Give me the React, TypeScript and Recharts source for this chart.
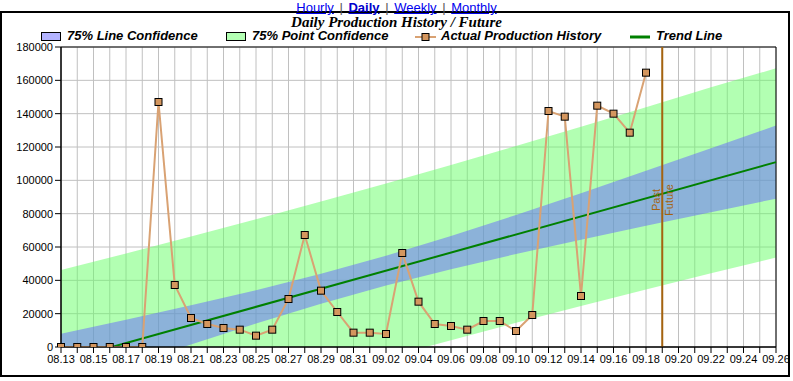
import { Area, CartesianGrid, ComposedChart, Line, ReferenceArea, ReferenceLine, XAxis, YAxis } from 'recharts';

const days = [
  '08.13', '08.14', '08.15', '08.16', '08.17', '08.18', '08.19', '08.20', '08.21', '08.22',
  '08.23', '08.24', '08.25', '08.26', '08.27', '08.28', '08.29', '08.30', '08.31', '09.01',
  '09.02', '09.03', '09.04', '09.05', '09.06', '09.07', '09.08', '09.09', '09.10', '09.11',
  '09.12', '09.13', '09.14', '09.15', '09.16', '09.17', '09.18', '09.19', '09.20', '09.21',
  '09.22', '09.23', '09.24', '09.25', '09.26',
];

// actual production, 08.13 .. 09.18
const actual = [
  0, 0, 0, 0, 0, 0, 147000, 37200, 17400, 13800,
  11400, 10400, 6800, 10400, 28800, 67200, 33800, 21000, 8600, 8600,
  7800, 56400, 27200, 13800, 12600, 10400, 15600, 15600, 9600, 19200,
  141600, 138200, 30600, 144800, 140000, 128600, 164600,
];

// confidence bands, read every 4 days
const bandDays = [0, 4, 8, 12, 16, 20, 24, 28, 32, 36, 40, 44];
const lineLow = [-25000, -11600, 1500, 14100, 26000, 36900, 46700, 55800, 64400, 72700, 80900, 89000];
const lineHigh = [8000, 16300, 25000, 34000, 43900, 54700, 66600, 79200, 92300, 105700, 119300, 132900];
const pointLow = [-63200, -51400, -39800, -28500, -17400, -6500, 4100, 14500, 24600, 34500, 44200, 53700];
const pointHigh = [46200, 56100, 66300, 76700, 87300, 98100, 109200, 120600, 132100, 143900, 155900, 167200];

const trendDays = [0, 44];
const trendValues = [-8480, 110940];

const futureStart = 37;
const yTicks = [0, 20000, 40000, 60000, 80000, 100000, 120000, 140000, 160000, 180000];

const rows = actual.map((v, i) => ({ day: i, actual: v }));
const bands = bandDays.map((d, i) => ({
  day: d,
  line: [lineLow[i], lineHigh[i]],
  point: [pointLow[i], pointHigh[i]],
}));
const trend = trendDays.map((d, i) => ({ day: d, trend: trendValues[i] }));

const font = '"Liberation Sans", Arial, sans-serif';
const brown = '#a5630f';

const SquareDot = (props: any) => {
  const { cx, cy } = props;
  if (cx == null || cy == null) return null;
  return <rect x={cx - 3.5} y={cy - 3.5} width={7} height={7} fill="#d4965e" stroke="#000" strokeWidth={1} />;
};

const PastFuture = (props: any) => {
  const vb = props.viewBox || {};
  const x = vb.x;
  const cy = vb.y + vb.height * 0.51;
  return (
    <g fontFamily={font} fontSize={11} fill={brown}>
      <text x={x - 2} y={cy} textAnchor="middle" transform={`rotate(-90 ${x - 2} ${cy})`}>Past</text>
      <text x={x + 11} y={cy} textAnchor="middle" transform={`rotate(-90 ${x + 11} ${cy})`}>Future</text>
    </g>
  );
};

const legendText = { position: 'absolute' as const, top: 29, fontSize: 13, fontWeight: 'bold', fontStyle: 'italic', lineHeight: '14px' };

function LegendBox({ left, color, label }: { left: number; color: string; label: string }) {
  return (
    <>
      <div style={{ position: 'absolute', left, top: 32, width: 18, height: 7, background: color, border: '1px solid #000' }} />
      <div style={{ ...legendText, left: left + 26 }}>{label}</div>
    </>
  );
}

export default function App() {
  return (
    <div style={{ position: 'absolute', left: 0, top: 0, width: 793, height: 381, background: '#fff', fontFamily: font, overflow: 'hidden' }}>
      <div style={{ position: 'absolute', left: 0, top: 11, width: 790, height: 366, border: '2px solid #000', boxSizing: 'border-box' }} />
      <div style={{ position: 'absolute', left: 0, top: 0, width: 793, textAlign: 'center', fontSize: 13, lineHeight: '15px', color: '#555', wordSpacing: 2 }}>
        <span style={{ color: '#0000ee', textDecoration: 'underline' }}>Hourly</span> |{' '}
        <span style={{ color: '#0000cc', textDecoration: 'underline', fontWeight: 'bold' }}>Daily</span> |{' '}
        <span style={{ color: '#0000ee', textDecoration: 'underline' }}>Weekly</span> |{' '}
        <span style={{ color: '#0000ee', textDecoration: 'underline' }}>Monthly</span>
      </div>
      <div style={{ position: 'absolute', left: 0, top: 15, width: 793, textAlign: 'center', fontFamily: '"Liberation Serif", "Times New Roman", serif', fontSize: 15, fontWeight: 'bold', fontStyle: 'italic', lineHeight: '14px' }}>
        Daily Production History / Future
      </div>
      <LegendBox left={41} color="#b3b3ff" label="75% Line Confidence" />
      <LegendBox left={226} color="#b3ffb3" label="75% Point Confidence" />
      <svg style={{ position: 'absolute', left: 413, top: 30 }} width={26} height={14}>
        <line x1={2} y1={7} x2={23} y2={7} stroke="#d9a273" strokeWidth={2} />
        <rect x={9} y={3.5} width={7} height={7} fill="#d4965e" stroke="#000" strokeWidth={1} />
      </svg>
      <div style={{ ...legendText, left: 441 }}>Actual Production History</div>
      <svg style={{ position: 'absolute', left: 629, top: 30 }} width={24} height={14}>
        <line x1={1} y1={7} x2={21} y2={7} stroke="#008000" strokeWidth={3} />
      </svg>
      <div style={{ ...legendText, left: 656 }}>Trend Line</div>

      <div style={{ position: 'absolute', left: 0, top: 0 }}>
        <ComposedChart width={793} height={381} data={rows} margin={{ top: 47, right: 17, bottom: 4, left: 1 }}>
          <CartesianGrid stroke="#c0c0c0" strokeWidth={1} />
          <XAxis
            dataKey="day"
            type="number"
            domain={[0, 44]}
            ticks={days.map((_, i) => i)}
            interval={0}
            tickFormatter={(i: number) => (i % 2 === 0 ? days[i] : '')}
            tick={{ fill: '#000', fontSize: 11, fontFamily: font }}
            tickLine={{ stroke: '#000' }}
            axisLine={{ stroke: '#000' }}
            height={30}
            allowDuplicatedCategory={false}
          />
          <YAxis
            type="number"
            domain={[0, 180000]}
            ticks={yTicks}
            interval={0}
            allowDataOverflow
            tick={{ fill: '#000', fontSize: 11, fontFamily: font }}
            tickLine={{ stroke: '#000' }}
            axisLine={{ stroke: '#000' }}
            width={60}
          />
          <Area data={bands} dataKey="point" type="linear" fill="#66ff66" fillOpacity={0.5} stroke="none" isAnimationActive={false} />
          <Area data={bands} dataKey="line" type="linear" fill="#6666ff" fillOpacity={0.5} stroke="none" isAnimationActive={false} />
          <Line data={trend} dataKey="trend" type="linear" stroke="#008000" strokeWidth={2} dot={false} isAnimationActive={false} />
          <Line dataKey="actual" type="linear" stroke="#d9a273" strokeWidth={2} dot={<SquareDot />} isAnimationActive={false} />
          <ReferenceLine x={futureStart} stroke={brown} strokeWidth={2} label={<PastFuture />} />
          <ReferenceArea x1={0} x2={44} y1={0} y2={180000} fill="none" stroke="#000" strokeWidth={1} />
        </ComposedChart>
      </div>
    </div>
  );
}
